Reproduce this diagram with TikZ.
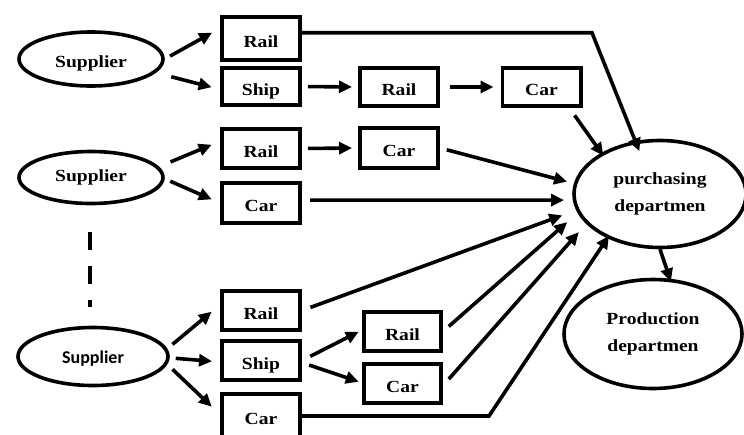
\documentclass[tikz,border=0pt]{standalone}
\usepackage{fontspec}
\setmainfont{Liberation Serif}[FakeStretch=1.15]
\newfontfamily\supsans{Carlito}
\usetikzlibrary{arrows.meta,shapes.geometric}
\begin{document}
\begin{tikzpicture}[x=1pt,y=-1pt,
  every node/.style={font=\bfseries\fontsize{17}{26.5}\selectfont},
  mode/.style={draw, line width=3.6pt, minimum width=78.4pt, inner sep=0pt,
    text height=17pt, text depth=0pt},
  place/.style={draw, ellipse, line width=3.6pt, inner sep=0pt, align=center},
  arr/.style={line width=3.6pt, -{Triangle[length=13pt,width=12pt]}},
  ellipsis/.style={line width=3.6pt, dash pattern=on 18pt off 16pt}]
\useasboundingbox (0,0) rectangle (744,434);

% suppliers
\node[place, minimum width=144pt, minimum height=54pt, text height=16pt, text depth=0pt] (sup1) at (91,59) {Supplier};
\node[place, minimum width=144pt, minimum height=52pt] (sup2) at (91,177.5) {Supplier};
\node[place, minimum width=150pt, minimum height=58pt, text height=14pt, text depth=0pt,
  font=\supsans\bfseries\fontsize{18}{22}\selectfont] (sup3) at (93,356.5) {Supplier};

% first transport leg
\node[mode, minimum height=43.4pt] (r1) at (261,38.5) {Rail};
\node[mode, minimum height=37.4pt] (s1) at (261,86.5) {Ship};
\node[mode, minimum height=39.4pt] (r2) at (261,148.5) {Rail};
\node[mode, minimum height=40.4pt] (c4) at (261,203) {Car};
\node[mode, minimum height=39.4pt] (rb) at (261,310.5) {Rail};
\node[mode, minimum height=39.4pt] (sb) at (261,360.5) {Ship};
\node[mode, minimum height=44.4pt] (cb) at (261,416) {Car};

% further legs
\node[mode, minimum height=38.4pt] (rm2) at (399,87) {Rail};
\node[mode, minimum height=38.4pt] (cm2) at (541.5,87) {Car};
\node[mode, minimum height=40.4pt] (cm3) at (399,148) {Car};
\node[mode, minimum height=39.4pt, minimum width=77.4pt] (rmb) at (402.5,331.5) {Rail};
\node[mode, minimum height=39.4pt, minimum width=77.4pt] (cmb) at (402.5,383.5) {Car};

% departments
\node[place, minimum width=172pt, minimum height=107pt] (pur) at (660,194) {purchasing\\departmen};
\node[place, minimum width=178pt, minimum height=109pt] (prod) at (653,334) {Production\\departmen};

% further suppliers omitted
\draw[ellipsis] (90,232) -- (90,307);

% supplier to first leg
\draw[arr, shorten <=6pt, shorten >=9pt] (sup1.east) -- (r1.166);
\draw[arr, shorten <=16pt, shorten >=8.6pt] (sup1.-12) -- (s1.184);
\draw[arr, shorten <=12.5pt, shorten >=9pt] (sup2.9) -- (r2.170);
\draw[arr, shorten <=6pt, shorten >=9pt] (sup2.-1) -- (c4.180);
\draw[arr, shorten <=6.7pt, shorten >=10.8pt] (sup3.6) -- (rb.172);
\draw[arr, shorten <=6pt, shorten >=8pt] (sup3.-1) -- (sb.182);
\draw[arr, shorten <=7.3pt, shorten >=11.3pt] (sup3.-6) -- (cb.178);

% leg to leg
\draw[arr, shorten <=6pt, shorten >=6pt] (s1.east) -- (rm2.west);
\draw[arr, shorten <=10pt, shorten >=7pt] (rm2.east) -- (cm2.west);
\draw[arr, shorten <=6pt, shorten >=6pt] (r2.east) -- (cm3.west);
\draw[arr, shorten <=9.3pt, shorten >=3.6pt] (sb.east) -- (rmb.178);
\draw[arr, shorten <=7.6pt, shorten >=3.4pt] (sb.-3) -- (cmb.179);

% deliveries to purchasing
\draw[arr, shorten >=-11pt] (r1.8) -- ++(290,0) -- (pur.115);
\draw[arr, shorten <=9pt, shorten >=-3.5pt] (cm2.-37) -- (pur.145);
\draw[arr, shorten <=7pt, shorten >=7pt] (cm3.east) -- (pur.173);
\draw[arr, shorten <=8pt, shorten >=8.7pt] (c4.4) -- (pur.184);
\draw[arr, shorten <=9pt, shorten >=14.7pt] (rb.east) -- (pur.191);
\draw[arr, shorten <=7.7pt, shorten >=13.8pt] (rmb.east) -- (pur.193);
\draw[arr, shorten <=8.7pt, shorten >=11pt] (cmb.-3) -- (pur.202);
\draw[arr, shorten >=-3pt] (cb.east) -- ++(187,0) -- (pur.220);

% purchasing to production
\draw[arr, shorten >=-3pt] (pur.south) -- (prod.73);
\end{tikzpicture}
\end{document}
